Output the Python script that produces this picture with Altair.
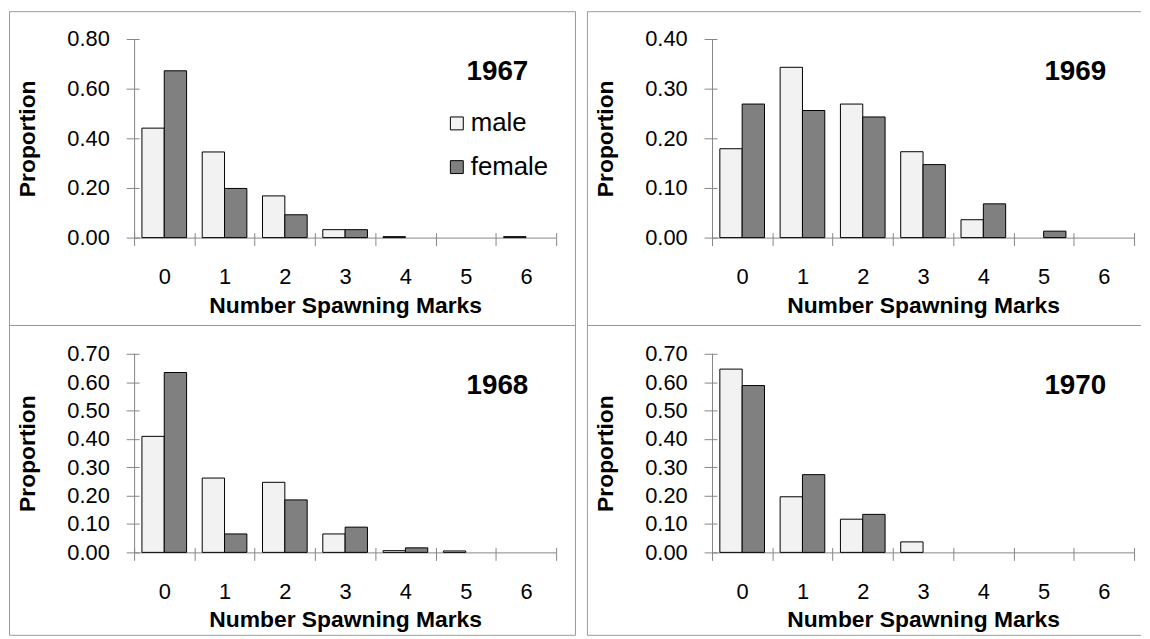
import altair as alt
import pandas as pd

# ---- data ----
marks = [0, 1, 2, 3, 4, 5, 6]
sexes = ["male", "female"]

year_1967 = "1967"
male_1967 = [0.441, 0.345, 0.168, 0.032, 0.004, 0.0, 0.004]
female_1967 = [0.672, 0.198, 0.092, 0.032, 0.0, 0.0, 0.0]
ticks_1967 = [0.0, 0.2, 0.4, 0.6, 0.8]

year_1969 = "1969"
male_1969 = [0.179, 0.343, 0.269, 0.173, 0.036, 0.0, 0.0]
female_1969 = [0.269, 0.256, 0.243, 0.147, 0.068, 0.013, 0.0]
ticks_1969 = [0.0, 0.1, 0.2, 0.3, 0.4]

year_1968 = "1968"
male_1968 = [0.409, 0.262, 0.247, 0.065, 0.006, 0.005, 0.0]
female_1968 = [0.634, 0.065, 0.185, 0.089, 0.016, 0.0, 0.0]
ticks_1968 = [0.0, 0.1, 0.2, 0.3, 0.4, 0.5, 0.6, 0.7]

year_1970 = "1970"
male_1970 = [0.646, 0.196, 0.117, 0.037, 0.0, 0.0, 0.0]
female_1970 = [0.588, 0.274, 0.134, 0.0, 0.0, 0.0, 0.0]
ticks_1970 = [0.0, 0.1, 0.2, 0.3, 0.4, 0.5, 0.6, 0.7]

FONT = "Liberation Sans"
AXIS_GRAY = "#868686"
BORDER_GRAY = "#9a9a9a"
COLORS = ["#f2f2f2", "#808080"]
W, H = 425, 200


def panel(year, male, female, ticks, legend, right, top_off, bottom_off):
    rows = []
    for m, mv, fv in zip(marks, male, female):
        if mv > 0:
            rows.append({"marks": m, "sex": "male", "value": mv})
        if fv > 0:
            rows.append({"marks": m, "sex": "female", "value": fv})
    df = pd.DataFrame(rows)
    one = pd.DataFrame({"year": [year]})

    if legend:
        leg = alt.Legend(
            orient="none", legendX=312, legendY=72, title=None,
            symbolType="square", symbolSize=169, symbolStrokeColor="black",
            symbolStrokeWidth=1, symbolOpacity=1, labelFontSize=26, labelFont=FONT,
            labelColor="black", labelOffset=1, rowPadding=18, padding=0,
        )
    else:
        leg = None

    bars = alt.Chart(df).mark_bar(stroke="black", strokeWidth=1, opacity=1).encode(
        x=alt.X(
            "marks:O",
            scale=alt.Scale(domain=marks, paddingInner=0, paddingOuter=0),
            axis=alt.Axis(
                title="Number Spawning Marks", tickBand="extent", offset=-5,
                tickSize=13, tickColor=AXIS_GRAY, tickWidth=1, domain=False,
                grid=False, labelAngle=0, labelPadding=21, labelFontSize=22,
                labelColor="black", labelFont=FONT, titleFontSize=23,
                titleFontWeight="bold", titleColor="black", titleFont=FONT,
                titlePadding=7,
            ),
        ),
        xOffset=alt.XOffset(
            "sex:N", scale=alt.Scale(domain=sexes, paddingInner=0, paddingOuter=0.35)
        ),
        y=alt.Y(
            "value:Q",
            scale=alt.Scale(domain=[ticks[0], ticks[-1]], nice=False),
            axis=alt.Axis(
                title="Proportion", values=ticks, format=".2f", offset=-5,
                tickSize=13, tickColor=AXIS_GRAY, tickWidth=1, domain=False,
                grid=False, labelPadding=17, labelFontSize=22, labelColor="black",
                labelFont=FONT, titleFontSize=23, titleFontWeight="bold",
                titleColor="black", titleFont=FONT, titlePadding=27,
            ),
        ),
        color=alt.Color("sex:N", scale=alt.Scale(domain=sexes, range=COLORS), legend=leg),
    )

    yline = alt.Chart(one).mark_rule(color=AXIS_GRAY, strokeWidth=1).encode(
        x=alt.value(0.5), y=alt.value(0), y2=alt.value(H)
    )
    xline = alt.Chart(one).mark_rule(color=AXIS_GRAY, strokeWidth=1).encode(
        x=alt.value(0), x2=alt.value(W), y=alt.value(H + 0.5)
    )

    label = alt.Chart(one).mark_text(
        align="right", baseline="alphabetic", fontSize=28, fontWeight="bold",
        font=FONT, color="black",
    ).encode(x=alt.value(397), y=alt.value(41), text="year:N")

    x_left = -125.5
    x_right = 432 if right else 444.5

    def hline(y):
        return alt.Chart(one).mark_rule(color=BORDER_GRAY, strokeWidth=1).encode(
            x=alt.value(x_left), x2=alt.value(x_right), y=alt.value(y))

    def vline(x):
        return alt.Chart(one).mark_rule(color=BORDER_GRAY, strokeWidth=1).encode(
            x=alt.value(x), y=alt.value(top_off), y2=alt.value(bottom_off))

    border = [hline(top_off), hline(bottom_off), vline(x_left)]
    if not right:
        border.append(vline(x_right))

    return alt.layer(*border, yline, xline, bars, label).properties(width=W, height=H)


p1 = panel(year_1967, male_1967, female_1967, ticks_1967, True, False, -27.5, 288.5)
p2 = panel(year_1969, male_1969, female_1969, ticks_1969, False, True, -27.5, 288.5)
p3 = panel(year_1968, male_1968, female_1968, ticks_1968, False, False, -28.5, 283.5)
p4 = panel(year_1970, male_1970, female_1970, ticks_1970, False, True, -28.5, 283.5)

chart = (
    alt.concat(p1, p2, p3, p4, columns=2, bounds="flush",
               spacing={"row": 117, "column": 157})
    .resolve_scale(color="independent")
    .resolve_legend(color="independent")
    .properties(padding=0)
    .configure(font=FONT)
    .configure_view(stroke="transparent")
)

chart.save("out.html", embed_options={"renderer": "svg", "actions": False})
